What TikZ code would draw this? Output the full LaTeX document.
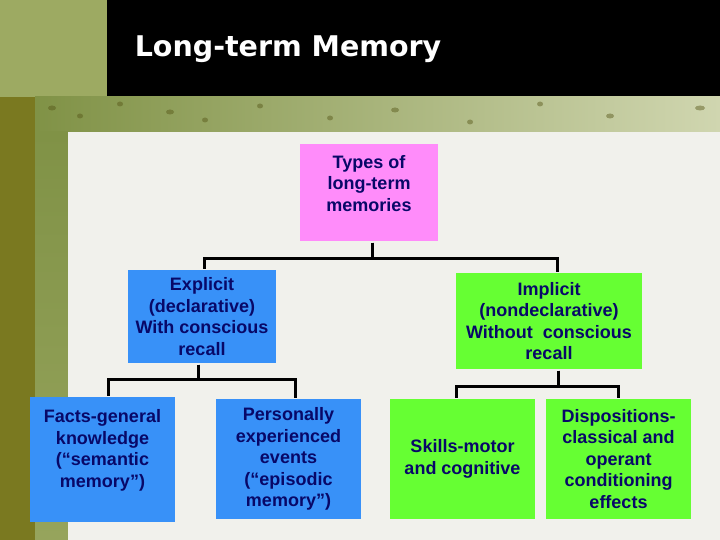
\documentclass[tikz,border=0pt]{standalone}
\usepackage{fontspec}
\setmainfont{Liberation Sans}
\newfontfamily\titlefont{DejaVu Sans}
\usepackage{tikz}
\usetikzlibrary{arrows.meta}

\definecolor{olivaChiaro}{RGB}{157,170,98}
\definecolor{olivaScuro}{RGB}{122,121,32}
\definecolor{olivaMedio}{RGB}{150,164,92}
\definecolor{fasciaSx}{RGB}{128,146,70}
\definecolor{fasciaDx}{RGB}{208,214,176}
\definecolor{pannello}{RGB}{241,241,236}
\definecolor{rosa}{RGB}{255,140,250}
\definecolor{azzurro}{RGB}{56,145,248}
\definecolor{verde}{RGB}{102,255,51}
\definecolor{testo}{RGB}{8,8,104}

\begin{document}
\begin{tikzpicture}[x=1pt, y=-1pt, line width=3pt]

\tikzset{
    scatola/.style={rectangle, inner sep=0pt, align=center, text=testo,
        font=\bfseries\fontsize{18}{21.5}\selectfont},
    radice/.style={scatola, fill=rosa, minimum width=138pt, minimum height=97pt},
    esplicita/.style={scatola, fill=azzurro},
    implicita/.style={scatola, fill=verde},
    ramo/.style={draw=black, line width=3pt}
}

\useasboundingbox (0,0) rectangle (720,540);

% Sfondo
\fill[olivaChiaro] (0,0) rectangle (107,97);
\fill[black] (107,0) rectangle (720,97);
\shade[left color=fasciaSx, right color=fasciaDx] (35,97) rectangle (720,132);
\fill[olivaScuro] (0,97) rectangle (35,540);
\shade[top color=fasciaSx, bottom color=olivaMedio] (35,132) rectangle (68,540);
\fill[pannello] (68,132) rectangle (720,540);
% macchie
\foreach \px/\py/\r in {52/108/4, 80/116/3, 120/104/3, 170/112/4, 205/120/3,
    260/106/3, 330/118/3, 395/110/4, 470/122/3, 540/104/3, 610/116/4, 700/108/5}
    \fill[olivaScuro!70!black, opacity=0.45] (\px,\py) ellipse (\r pt and 2.5pt);

% Titolo
\node[anchor=base west, text=white, font=\titlefont\bfseries\fontsize{28.5}{34}\selectfont]
    (titolo) at (130,57) {Long-term Memory};

% Nodi
\node[radice] (tipi) at (369,192.5)
    {\raisebox{7pt}[\height][\depth]{\begin{tabular}{@{}c@{}}Types of\\long-term\\memories\end{tabular}}};

\node[esplicita, minimum width=148pt, minimum height=93pt] (espl) at (202,316.5)
    {Explicit\\(declarative)\\With conscious\\recall};
\node[implicita, minimum width=186pt, minimum height=96pt] (impl) at (549,321)
    {Implicit\\(nondeclarative)\\Without\ \ conscious\\recall};

\node[esplicita, minimum width=145pt, minimum height=125pt] (fatti) at (102.5,459.5)
    {\raisebox{9pt}[\height][\depth]{\begin{tabular}{@{}c@{}}Facts-general\\knowledge\\(“semantic\\memory”)\end{tabular}}};
\node[esplicita, minimum width=145pt, minimum height=120pt] (episodi) at (288.5,459)
    {Personally\\experienced\\events\\(“episodic\\memory”)};
\node[implicita, minimum width=145pt, minimum height=120pt] (abilita) at (462.5,459)
    {Skills-motor\\and cognitive};
\node[implicita, minimum width=145pt, minimum height=120pt] (disposizioni) at (618.5,459)
    {Dispositions-\\classical and\\operant\\conditioning\\effects};

% Collegamenti
\draw[ramo] ([xshift=3pt]tipi.south) -- ++(0,16) -| ([xshift=2pt]espl.north);
\draw[ramo] ([xshift=3pt]tipi.south) -- ++(0,16) -| ([xshift=8pt]impl.north);

\draw[ramo] ([xshift=-4pt]espl.south) -- ++(0,15) -| ([xshift=5.5pt]fatti.north);
\draw[ramo] ([xshift=-4pt]espl.south) -- ++(0,15) -| ([xshift=6.5pt]episodi.north);

\draw[ramo] ([xshift=9pt]impl.south) -- ++(0,16) -| ([xshift=-6.5pt]abilita.north);
\draw[ramo] ([xshift=9pt]impl.south) -- ++(0,16) -| ([xshift=-0.5pt]disposizioni.north);

\end{tikzpicture}
\end{document}
